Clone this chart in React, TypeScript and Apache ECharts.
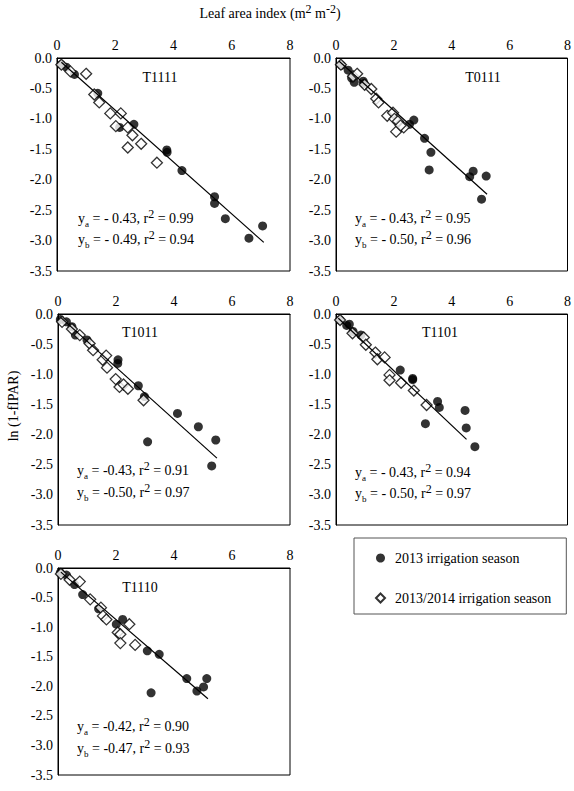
import React, { useEffect, useRef } from "react";
import * as echarts from "echarts";

const FONT = "Liberation Serif, Times New Roman, serif";

const panelNames = ["T1111", "T0111", "T1011", "T1101", "T1110"];

// 2013 irrigation season (filled circles): [LAI, ln(1-fIPAR)]
const circlesT1111: number[][] = [
  [0.15, -0.11], [0.32, -0.15], [0.6, -0.27], [1.4, -0.58], [2.15, -1.14], [2.64, -1.09],
  [3.77, -1.51], [3.78, -1.55], [4.29, -1.85], [5.41, -2.28], [5.41, -2.39], [5.78, -2.64],
  [6.59, -2.96], [7.06, -2.76],
];
const circlesT0111: number[][] = [
  [0.19, -0.12], [0.42, -0.2], [0.54, -0.33], [0.63, -0.4], [0.94, -0.38], [0.97, -0.42],
  [2.54, -1.09], [2.69, -1.02], [3.06, -1.32], [3.28, -1.55], [3.22, -1.84], [4.62, -1.95],
  [4.74, -1.86], [5.19, -1.94], [5.03, -2.32],
];
const circlesT1011: number[][] = [
  [0.08, -0.09], [0.29, -0.13], [0.48, -0.21], [0.6, -0.35], [1.0, -0.43], [2.07, -0.76],
  [2.06, -0.82], [2.77, -1.19], [2.98, -1.37], [3.09, -2.12], [4.12, -1.65], [4.84, -1.87],
  [5.44, -2.09], [5.3, -2.52],
];
const circlesT1101: number[][] = [
  [0.14, -0.1], [0.37, -0.19], [0.46, -0.17], [0.59, -0.29], [0.86, -0.35], [2.22, -0.93],
  [2.65, -1.07], [2.65, -1.09], [3.51, -1.45], [3.57, -1.55], [3.09, -1.82], [4.46, -1.6],
  [4.5, -1.89], [4.8, -2.2],
];
const circlesT1110: number[][] = [
  [0.08, -0.08], [0.29, -0.12], [0.57, -0.28], [0.85, -0.45], [1.4, -0.69], [2.01, -0.95],
  [2.23, -0.87], [3.08, -1.4], [3.49, -1.46], [3.21, -2.11], [4.44, -1.87], [4.79, -2.08],
  [5.02, -2.01], [5.13, -1.87],
];

// 2013/2014 irrigation season (open diamonds)
const diamondsT1111: number[][] = [
  [0.15, -0.11], [0.46, -0.22], [1.0, -0.26], [1.28, -0.6], [1.45, -0.73], [1.83, -0.91],
  [2.19, -0.91], [2.02, -1.12], [2.43, -1.14], [2.59, -1.27], [2.43, -1.47], [2.89, -1.41],
  [3.43, -1.72],
];
const diamondsT0111: number[][] = [
  [0.17, -0.11], [0.59, -0.3], [0.73, -0.26], [0.99, -0.44], [1.22, -0.51], [1.39, -0.67],
  [1.47, -0.73], [1.77, -0.95], [1.97, -0.9], [2.02, -1.0], [2.14, -1.04], [2.08, -1.21],
  [2.34, -1.14], [2.23, -1.11],
];
const diamondsT1011: number[][] = [
  [0.14, -0.13], [0.48, -0.25], [0.75, -0.35], [1.09, -0.49], [1.21, -0.6], [1.54, -0.76],
  [1.66, -0.69], [1.69, -0.89], [1.99, -1.08], [2.12, -1.21], [2.26, -1.17], [2.41, -1.24],
  [2.95, -1.43],
];
const diamondsT1101: number[][] = [
  [0.14, -0.1], [0.57, -0.32], [0.96, -0.39], [1.03, -0.51], [1.36, -0.64], [1.43, -0.75],
  [1.68, -0.72], [1.85, -1.01], [1.85, -1.1], [2.25, -1.14], [2.69, -1.27], [3.13, -1.51],
];
const diamondsT1110: number[][] = [
  [0.1, -0.1], [0.4, -0.2], [0.75, -0.23], [1.11, -0.53], [1.48, -0.67], [1.55, -0.81],
  [1.67, -0.87], [2.46, -0.95], [2.06, -1.09], [2.15, -1.12], [2.15, -1.27], [2.66, -1.3],
];

// regression line end points per panel
const lineStartX = [0.15, 0.1, 0.1, 0.08, 0.1];
const lineStartY = [-0.07, -0.05, -0.06, -0.07, -0.07];
const lineEndX = [7.1, 5.22, 5.48, 4.51, 5.17];
const lineEndY = [-3.03, -2.24, -2.39, -2.08, -2.21];

// equation labels
const slopeA = ["- 0.43", "- 0.43", "-0.43", "- 0.43", "-0.42"];
const r2A = ["0.99", "0.95", "0.91", "0.94", "0.90"];
const slopeB = ["- 0.49", "- 0.50", "-0.50", "- 0.50", "-0.47"];
const r2B = ["0.94", "0.96", "0.97", "0.97", "0.93"];

const xTicks = { min: 0, max: 8, interval: 2 };
const yTicks = { min: -3.5, max: 0, interval: 0.5 };

const circleSets = [circlesT1111, circlesT0111, circlesT1011, circlesT1101, circlesT1110];
const diamondSets = [diamondsT1111, diamondsT0111, diamondsT1011, diamondsT1101, diamondsT1110];

const SERIES_A = "2013 irrigation season";
const SERIES_B = "2013/2014 irrigation season";

export default function App() {
  const ref = useRef<HTMLDivElement>(null);
  useEffect(() => {
    document.body.style.margin = "0";
    const chart = echarts.init(ref.current!, null, { renderer: "svg" });

    const grids = [
      { left: 57, top: 58, width: 233, height: 213 },
      { left: 336, top: 58, width: 233, height: 213 },
      { left: 58, top: 314, width: 232, height: 211 },
      { left: 336, top: 314, width: 233, height: 211 },
      { left: 58, top: 568, width: 232, height: 207 },
    ];
    const titlePos = [
      [160, 77], [483, 77], [140, 332], [440, 332], [140, 587],
    ];
    const eqPos = [
      [78, 218, 239], [355, 218, 239], [77, 470, 492], [355, 472, 493], [77, 726, 748],
    ];

    const axisTextStyle = { color: "#000", fontFamily: FONT, fontSize: 14 };

    const xAxis = grids.map((_, i) => ({
      type: "value",
      gridIndex: i,
      position: "top",
      min: xTicks.min,
      max: xTicks.max,
      interval: xTicks.interval,
      axisLine: { show: true, lineStyle: { color: "#000", width: 1 } },
      axisTick: { show: false },
      splitLine: { show: false },
      axisLabel: { ...axisTextStyle, margin: 6 },
    }));
    const yAxis = grids.map((_, i) => ({
      type: "value",
      gridIndex: i,
      min: yTicks.min,
      max: yTicks.max,
      interval: yTicks.interval,
      axisLine: { show: true, lineStyle: { color: "#000", width: 1 } },
      axisTick: { show: false },
      splitLine: { show: false },
      axisLabel: { ...axisTextStyle, margin: 5, formatter: (v: number) => v.toFixed(1) },
    }));

    const series: any[] = [];
    grids.forEach((_, i) => {
      series.push({
        name: SERIES_A,
        type: "scatter",
        xAxisIndex: i,
        yAxisIndex: i,
        symbol: "circle",
        symbolSize: 9,
        itemStyle: { color: "#000" },
        data: circleSets[i],
        z: 3,
      });
      series.push({
        name: SERIES_B,
        type: "scatter",
        xAxisIndex: i,
        yAxisIndex: i,
        symbol: "diamond",
        symbolSize: 11,
        itemStyle: { color: "#fff", borderColor: "#000", borderWidth: 1.3 },
        data: diamondSets[i],
        z: 4,
      });
      series.push({
        name: "fit" + i,
        type: "line",
        xAxisIndex: i,
        yAxisIndex: i,
        showSymbol: false,
        symbol: "none",
        lineStyle: { color: "#000", width: 1.2 },
        data: [
          [lineStartX[i], lineStartY[i]],
          [lineEndX[i], lineEndY[i]],
        ],
        z: 5,
      });
    });

    const rich = {
      n: { fontFamily: FONT, fontSize: 14, lineHeight: 20, fill: "#000", color: "#000" },
      s: { fontFamily: FONT, fontSize: 9, lineHeight: 9, verticalAlign: "bottom", fill: "#000", color: "#000" },
      p: { fontFamily: FONT, fontSize: 12, lineHeight: 10, verticalAlign: "top", fill: "#000", color: "#000" },
    };

    const graphic: any[] = [];
    panelNames.forEach((name, i) => {
      graphic.push({
        type: "text",
        x: titlePos[i][0],
        y: titlePos[i][1],
        style: {
          text: name,
          fill: "#000",
          font: `14px ${FONT}`,
          align: "center",
          verticalAlign: "middle",
        },
      });
      graphic.push({
        type: "text",
        x: eqPos[i][0],
        y: eqPos[i][1],
        style: {
          text: `{n|y}{s|a}{n| = ${slopeA[i]}, r}{p|2}{n| = ${r2A[i]}}`,
          rich,
          align: "left",
          verticalAlign: "middle",
        },
      });
      graphic.push({
        type: "text",
        x: eqPos[i][0],
        y: eqPos[i][2],
        style: {
          text: `{n|y}{s|b}{n| = ${slopeB[i]}, r}{p|2}{n| = ${r2B[i]}}`,
          rich,
          align: "left",
          verticalAlign: "middle",
        },
      });
    });
    graphic.push({
      type: "text",
      x: 270,
      y: 13,
      style: {
        text: "{n|Leaf area index (m}{p|2}{n| m}{p|-2}{n|)}",
        rich,
        align: "center",
        verticalAlign: "middle",
      },
    });
    graphic.push({
      type: "text",
      x: 13,
      y: 406,
      rotation: Math.PI / 2,
      style: {
        text: "ln (1-fIPAR)",
        fill: "#000",
        font: `14px ${FONT}`,
        align: "center",
        verticalAlign: "middle",
      },
    });

    chart.setOption({
      animation: false,
      backgroundColor: "#fff",
      textStyle: { fontFamily: FONT, color: "#000" },
      grid: grids.map((g) => ({ ...g, show: true, borderColor: "#000", borderWidth: 1, backgroundColor: "transparent" })),
      xAxis,
      yAxis,
      series,
      legend: {
        data: [SERIES_A, SERIES_B],
        orient: "vertical",
        left: 354,
        top: 538,
        padding: [13, 15, 9, 21],
        itemGap: 26,
        itemWidth: 9,
        itemHeight: 9,
        borderColor: "#555",
        borderWidth: 1,
        textStyle: { color: "#000", fontFamily: FONT, fontSize: 14, padding: [0, 0, 0, 5] },
      },
      graphic,
    });
    return () => chart.dispose();
  }, []);
  return <div ref={ref} style={{ width: 574, height: 791 }} />;
}
